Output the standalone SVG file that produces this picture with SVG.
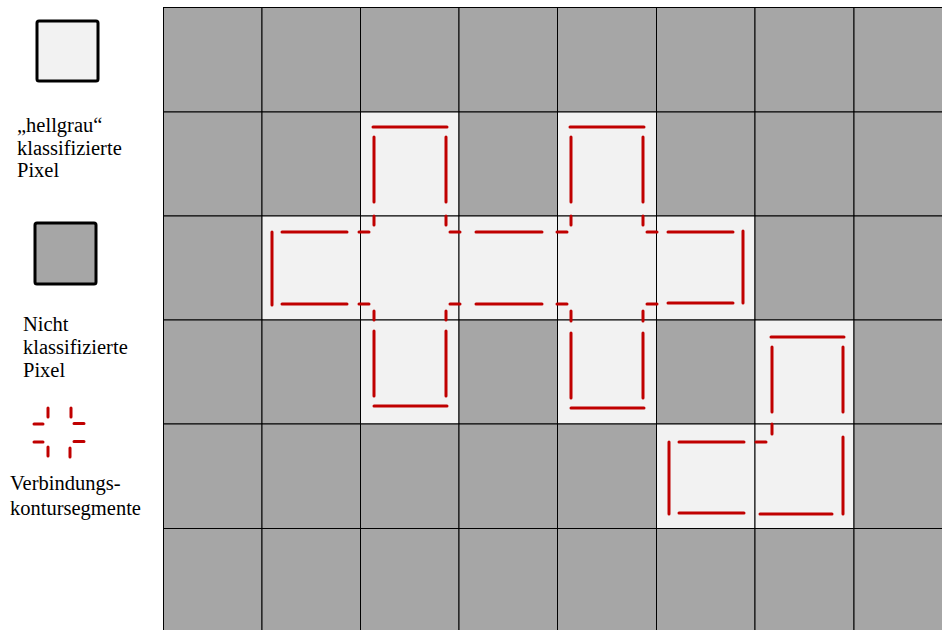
<svg xmlns="http://www.w3.org/2000/svg" width="942" height="630" viewBox="0 0 942 630">
<defs>
<style>
.dk{fill:#a6a6a6;stroke:#000;stroke-width:1}
.lt{fill:#f2f2f2;stroke:#000;stroke-width:1}
.seg{fill:none;stroke:#c00000;stroke-width:3;stroke-linecap:round}
.lg{stroke:#000;stroke-width:3}
text{font-family:'Liberation Serif','Times New Roman',Times,'DejaVu Serif',serif;font-size:20.5px;fill:#000}
</style>
</defs>
<rect width="942" height="630" fill="#fff"/>
<g id="legend">
<g id="legend-light">
<rect x="37" y="21" width="61" height="60" rx="2" class="lg" fill="#f2f2f2"/>
<text><tspan x="17" y="132">„hellgrau“</tspan><tspan x="17" y="154.5">klassifizierte</tspan><tspan x="17" y="177">Pixel</tspan></text>
</g>
<g id="legend-dark">
<rect x="35" y="223" width="61" height="61" rx="2" class="lg" fill="#a6a6a6"/>
<text><tspan x="23" y="331">Nicht</tspan><tspan x="23" y="354">klassifizierte</tspan><tspan x="23" y="377">Pixel</tspan></text>
</g>
<g id="legend-seg">
<path class="seg" d="M48 408V417M71 408V417M34 424H43M74 423.5H84M34 442H43M74 441.5H84M48 447V456M70 448V457"/>
<text><tspan x="10" y="490">Verbindungs-</tspan><tspan x="10" y="515">kontursegmente</tspan></text>
</g>
</g>
<g id="grid">
<g id="row0">
<rect class="dk" x="163.5" y="7.5" width="98.5" height="104.5"/><rect class="dk" x="262" y="7.5" width="98.5" height="104.5"/><rect class="dk" x="360.5" y="7.5" width="98.5" height="104.5"/><rect class="dk" x="459" y="7.5" width="98.5" height="104.5"/><rect class="dk" x="557.5" y="7.5" width="99" height="104.5"/><rect class="dk" x="656.5" y="7.5" width="98.5" height="104.5"/><rect class="dk" x="755" y="7.5" width="99" height="104.5"/><rect class="dk" x="854" y="7.5" width="99" height="104.5"/>
</g>
<g id="row1">
<rect class="dk" x="163.5" y="112" width="98.5" height="104"/><rect class="dk" x="262" y="112" width="98.5" height="104"/><rect class="lt" x="360.5" y="112" width="98.5" height="104"/><rect class="dk" x="459" y="112" width="98.5" height="104"/><rect class="lt" x="557.5" y="112" width="99" height="104"/><rect class="dk" x="656.5" y="112" width="98.5" height="104"/><rect class="dk" x="755" y="112" width="99" height="104"/><rect class="dk" x="854" y="112" width="99" height="104"/>
</g>
<g id="row2">
<rect class="dk" x="163.5" y="216" width="98.5" height="104"/><rect class="lt" x="262" y="216" width="98.5" height="104"/><rect class="lt" x="360.5" y="216" width="98.5" height="104"/><rect class="lt" x="459" y="216" width="98.5" height="104"/><rect class="lt" x="557.5" y="216" width="99" height="104"/><rect class="lt" x="656.5" y="216" width="98.5" height="104"/><rect class="dk" x="755" y="216" width="99" height="104"/><rect class="dk" x="854" y="216" width="99" height="104"/>
</g>
<g id="row3">
<rect class="dk" x="163.5" y="320" width="98.5" height="104"/><rect class="dk" x="262" y="320" width="98.5" height="104"/><rect class="lt" x="360.5" y="320" width="98.5" height="104"/><rect class="dk" x="459" y="320" width="98.5" height="104"/><rect class="lt" x="557.5" y="320" width="99" height="104"/><rect class="dk" x="656.5" y="320" width="98.5" height="104"/><rect class="lt" x="755" y="320" width="99" height="104"/><rect class="dk" x="854" y="320" width="99" height="104"/>
</g>
<g id="row4">
<rect class="dk" x="163.5" y="424" width="98.5" height="104.5"/><rect class="dk" x="262" y="424" width="98.5" height="104.5"/><rect class="dk" x="360.5" y="424" width="98.5" height="104.5"/><rect class="dk" x="459" y="424" width="98.5" height="104.5"/><rect class="dk" x="557.5" y="424" width="99" height="104.5"/><rect class="lt" x="656.5" y="424" width="98.5" height="104.5"/><rect class="lt" x="755" y="424" width="99" height="104.5"/><rect class="dk" x="854" y="424" width="99" height="104.5"/>
</g>
<g id="row5">
<rect class="dk" x="163.5" y="528.5" width="98.5" height="104"/><rect class="dk" x="262" y="528.5" width="98.5" height="104"/><rect class="dk" x="360.5" y="528.5" width="98.5" height="104"/><rect class="dk" x="459" y="528.5" width="98.5" height="104"/><rect class="dk" x="557.5" y="528.5" width="99" height="104"/><rect class="dk" x="656.5" y="528.5" width="98.5" height="104"/><rect class="dk" x="755" y="528.5" width="99" height="104"/><rect class="dk" x="854" y="528.5" width="99" height="104"/>
</g>
</g>
<g id="connectors">
<path class="seg" d="M373 127H447M374 137V202M446 137V202M374 216V225M446 216V225"/>
<path class="seg" d="M570 127H644M571 137V202M643 137V202M571 216V225M643 216V225"/>
<path class="seg" d="M272 232V305M282 232H347M282 304H347"/>
<path class="seg" d="M359 232H369M359 304H369M450 232H460M450 304H460"/>
<path class="seg" d="M476 232H542M476 304H542"/>
<path class="seg" d="M557 232H567M557 304H567M647 232H657M647 304H657"/>
<path class="seg" d="M668 232H733M668 303H733M743 231V303"/>
<path class="seg" d="M374 311V320M446 311V320M571 311V321M643 311V321"/>
<path class="seg" d="M374 331V396M446 331V396M374 406H447"/>
<path class="seg" d="M571 333V398M643 333V398M571 408H644"/>
<path class="seg" d="M771 337H844M772 347V412M843 347V412M772 424V434"/>
<path class="seg" d="M669 442V514M679 442H744M679 513H744M756 442H766"/>
<path class="seg" d="M843 437V514M760 514H832"/>
</g>
</svg>
